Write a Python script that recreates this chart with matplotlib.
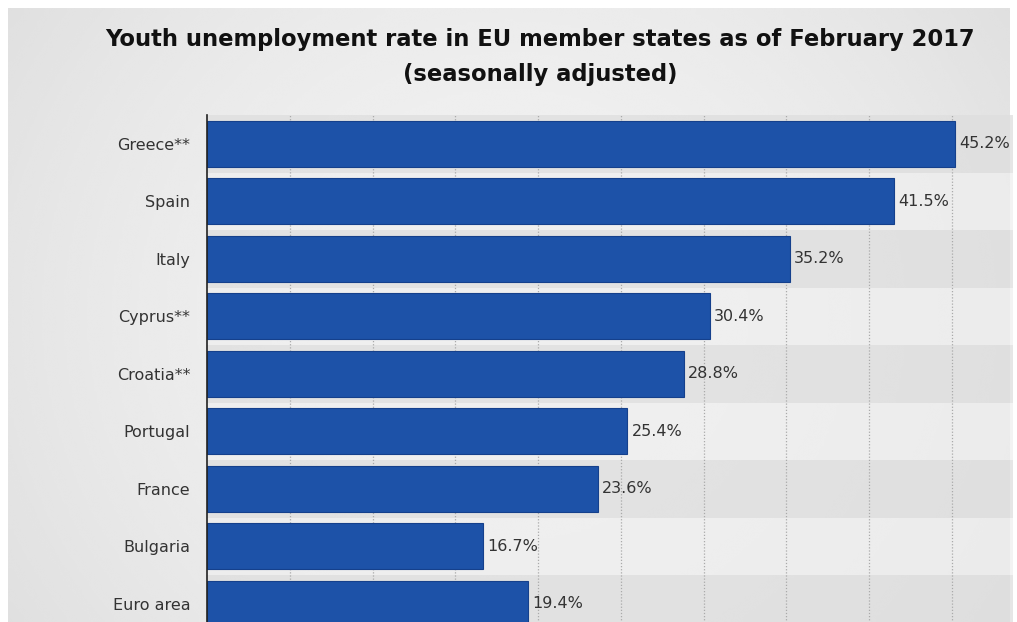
import numpy as np
import matplotlib
matplotlib.use("Agg")
import matplotlib.pyplot as plt

# datos del grafico
paises = ["Greece**", "Spain", "Italy", "Cyprus**", "Croatia**", "Portugal",
          "France", "Bulgaria", "Euro area"]
tasas = [45.2, 41.5, 35.2, 30.4, 28.8, 25.4, 23.6, 16.7, 19.4]
etiquetas = ["45.2%", "41.5%", "35.2%", "30.4%", "28.8%", "25.4%",
             "23.6%", "16.7%", "19.4%"]
titulo = "Youth unemployment rate in EU member states as of February 2017\n(seasonally adjusted)"

W, H = 1017, 622
fig = plt.figure(figsize=(W / 100, H / 100), dpi=100)
fig.patch.set_facecolor("white")

# panel gris de fondo con un degradado suave
bg = fig.add_axes([8 / W, 0, (W - 16) / W, (H - 8) / H])
bg.set_axis_off()
xx = np.linspace(-1, 1, 400)
yy = np.linspace(-1, 1, 200)
X, Y = np.meshgrid(xx, yy)
grad = 0.945 - 0.06 * (X ** 2) * 0.8 - 0.02 * (Y ** 2)
bg.imshow(grad, cmap="gray", vmin=0, vmax=1, aspect="auto",
          extent=[0, 1, 0, 1], interpolation="bicubic")
bg.set_xlim(0, 1)
bg.set_ylim(0, 1)

fig.text(540 / W, 1 - 57 / H, titulo, ha="center", va="center",
         fontsize=16.3, fontweight="bold", color="#111111", linespacing=1.68)

# ejes de barras: la ultima fila queda cortada por el borde inferior
fila = 57.5
top = 115
alto = fila * len(paises)
ax = fig.add_axes([207 / W, (H - top - alto) / H, (1013 - 207) / W, alto / H])
ax.patch.set_alpha(0)
ax.set_xlim(0, 48.7)
ax.set_ylim(len(paises) - 0.5, -0.5)

for i in range(len(paises)):
    color = "#dedede" if i % 2 == 0 else "#efefef"
    ax.axhspan(i - 0.5, i + 0.5, color=color, alpha=0.75, lw=0, zorder=0)

for gx in range(5, 50, 5):
    ax.axvline(gx, color="#aaaaaa", lw=0.9, ls=(0, (1, 1.5)), zorder=1)

y = np.arange(len(paises))
ax.barh(y, tasas, height=0.8, color="#1d52a8", edgecolor="#15408c",
        linewidth=0.8, zorder=2)

for yi, v, t in zip(y, tasas, etiquetas):
    ax.text(v + 0.25, yi, t, va="center", ha="left", fontsize=11.5,
            color="#333333", zorder=3)

ax.set_yticks(y)
ax.set_yticklabels(paises, fontsize=11.5, color="#333333")
ax.tick_params(axis="y", length=0, pad=12)
ax.set_xticks([])
for lado in ["top", "right", "bottom"]:
    ax.spines[lado].set_visible(False)
ax.spines["left"].set_color("#222222")
ax.spines["left"].set_linewidth(1.2)
ax.spines["left"].set_zorder(4)

fig.savefig("out.png", dpi=100, facecolor=fig.get_facecolor())
